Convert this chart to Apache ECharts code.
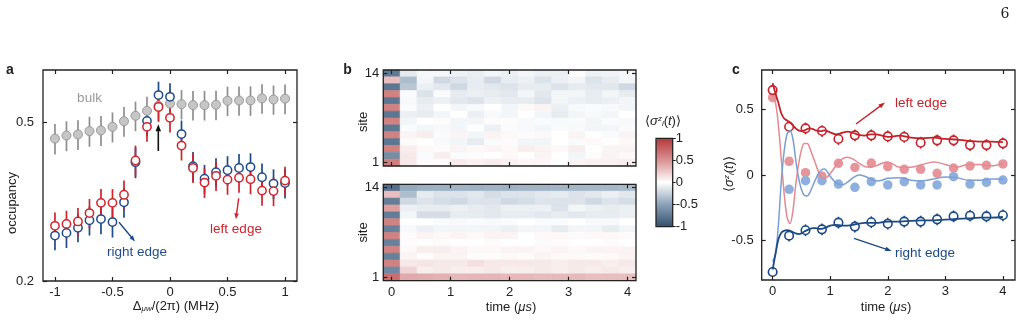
<!DOCTYPE html>
<html><head><meta charset="utf-8">
<script src="https://cdn.jsdelivr.net/npm/echarts@6/dist/echarts.min.js"></script>
<style>html,body{margin:0;padding:0;background:#fff}#c{width:1022px;height:325px}</style>
</head><body><div id="c"></div>
<script>
// ---------- Panel a ----------
const detuning = [-1,-0.9,-0.8,-0.7,-0.6,-0.5,-0.4,-0.3,-0.2,-0.1,0,0.1,0.2,0.3,0.4,0.5,0.6,0.7,0.8,0.9,1];
const bulkOcc  = [0.455,0.463,0.466,0.475,0.477,0.487,0.503,0.519,0.534,0.550,0.557,0.555,0.552,0.552,0.553,0.566,0.567,0.567,0.574,0.570,0.573];
const bulkErr  = [0.040,0.040,0.040,0.041,0.041,0.042,0.043,0.044,0.045,0.046,0.047,0.047,0.047,0.047,0.047,0.048,0.048,0.048,0.049,0.048,0.049];
const leftOcc  = [0.275,0.278,0.282,0.296,0.314,0.314,0.329,0.401,0.487,0.546,0.513,0.437,0.384,0.353,0.367,0.359,0.363,0.360,0.337,0.336,0.357];
const leftErr  = [0.022,0.022,0.023,0.025,0.026,0.026,0.028,0.036,0.040,0.045,0.042,0.036,0.032,0.030,0.031,0.030,0.030,0.030,0.028,0.028,0.030];
const rightOcc = [0.260,0.264,0.272,0.284,0.286,0.281,0.315,0.397,0.504,0.585,0.579,0.467,0.388,0.361,0.375,0.379,0.384,0.386,0.364,0.351,0.352];
const rightErr = [0.021,0.022,0.022,0.024,0.024,0.024,0.027,0.035,0.042,0.047,0.047,0.038,0.033,0.030,0.031,0.032,0.032,0.032,0.030,0.030,0.030];
const aXTicks = [-1,-0.5,0,0.5,1];
const aYTicks = [0.2,0.5];

// ---------- Panel b ----------
const times = [0,0.286,0.571,0.857,1.143,1.429,1.714,2.0,2.286,2.571,2.857,3.143,3.429,3.714,4.0];
const sites = [14,13,12,11,10,9,8,7,6,5,4,3,2,1];
const mapBulk = [
 [-0.74,-0.11,-0.04,-0.04,-0.07,-0.09,-0.05,-0.08,-0.05,-0.08,-0.08,-0.01,-0.07,-0.06,-0.04],
 [0.30,-0.35,-0.05,-0.20,-0.15,-0.10,-0.20,-0.10,-0.08,-0.15,-0.08,-0.05,-0.15,-0.10,-0.05],
 [-0.76,-0.30,-0.08,-0.12,-0.20,-0.10,-0.12,-0.15,-0.10,-0.10,-0.15,-0.10,-0.12,-0.12,-0.20],
 [0.60,-0.02,-0.15,-0.02,-0.10,-0.08,-0.10,-0.12,-0.05,-0.12,-0.05,-0.05,-0.10,-0.05,-0.10],
 [-0.76,-0.03,-0.10,-0.08,-0.12,-0.15,-0.08,-0.10,-0.10,-0.15,-0.05,-0.08,-0.10,-0.08,-0.05],
 [0.60,-0.02,-0.08,0.00,-0.05,-0.03,0.00,-0.05,0.03,0.05,-0.08,-0.03,-0.02,-0.03,-0.05],
 [-0.76,-0.08,-0.10,-0.05,0.00,-0.08,-0.03,-0.05,0.00,-0.05,-0.10,-0.05,-0.03,-0.05,0.00],
 [0.60,-0.05,0.00,0.02,-0.05,-0.05,0.02,0.02,-0.03,-0.02,-0.03,-0.02,-0.05,-0.02,-0.03],
 [-0.76,-0.02,-0.05,-0.03,-0.05,0.00,-0.08,-0.02,-0.03,-0.05,-0.02,-0.03,-0.05,-0.05,-0.02],
 [0.60,0.05,0.08,-0.02,0.05,-0.05,0.05,0.03,0.02,0.03,0.00,0.05,0.00,-0.02,0.05],
 [-0.76,0.02,0.00,-0.03,-0.05,-0.10,-0.02,0.02,-0.05,-0.05,0.00,-0.02,0.03,0.00,0.03],
 [0.60,0.08,0.03,0.02,0.05,0.03,0.05,0.03,0.08,0.05,0.03,0.08,0.00,0.05,0.05],
 [-0.62,0.10,-0.02,0.08,-0.02,0.02,0.00,0.03,0.00,0.05,0.00,-0.05,0.02,0.05,0.03],
 [0.62,0.10,0.02,0.02,0.09,0.06,0.09,0.06,0.04,0.04,0.01,0.05,0.07,0.07,0.08]
];
const mapEdge = [
 [-0.80,-0.46,-0.42,-0.41,-0.40,-0.41,-0.40,-0.41,-0.40,-0.40,-0.39,-0.38,-0.38,-0.38,-0.37],
 [0.30,-0.35,-0.10,-0.15,-0.15,-0.12,-0.18,-0.15,-0.15,-0.12,-0.10,-0.15,-0.12,-0.08,-0.12],
 [-0.72,-0.20,-0.15,-0.18,-0.20,-0.15,-0.15,-0.20,-0.18,-0.15,-0.15,-0.15,-0.20,-0.15,-0.18],
 [0.45,-0.08,-0.10,-0.10,-0.08,-0.10,-0.12,-0.08,-0.08,-0.08,-0.15,-0.05,-0.08,-0.10,-0.08],
 [-0.72,-0.05,-0.18,-0.18,-0.10,-0.10,-0.12,-0.10,-0.10,-0.12,-0.10,-0.12,-0.10,-0.10,-0.08],
 [0.60,0.00,0.00,-0.02,-0.03,-0.02,-0.03,-0.02,0.00,-0.02,-0.02,0.00,-0.03,-0.03,0.00],
 [-0.70,-0.03,-0.08,-0.05,-0.05,-0.05,-0.05,-0.08,-0.05,-0.05,-0.10,-0.05,-0.05,-0.10,-0.05],
 [0.60,0.02,0.05,0.03,0.05,0.03,0.05,0.05,0.00,0.03,0.03,0.02,0.03,0.03,0.02],
 [-0.70,0.02,0.00,0.02,0.00,0.00,0.02,0.00,0.00,-0.02,0.02,0.00,0.00,0.02,0.00],
 [0.60,0.03,0.08,0.08,0.05,0.03,0.03,0.05,0.05,0.03,0.05,0.03,0.05,0.05,0.05],
 [-0.70,0.05,0.02,0.05,0.05,0.02,0.02,0.03,0.02,0.05,0.03,0.03,0.02,0.03,0.05],
 [0.60,0.10,0.12,0.10,0.10,0.15,0.10,0.10,0.10,0.10,0.08,0.10,0.10,0.08,0.10],
 [-0.65,0.20,0.08,0.10,0.08,0.08,0.10,0.08,0.08,0.10,0.08,0.10,0.08,0.10,0.08],
 [0.70,0.40,0.38,0.36,0.33,0.34,0.34,0.33,0.33,0.31,0.32,0.32,0.30,0.30,0.30]
];
const bXTicks = [0,1,2,3,4];
const bYTicks = [1,14];
const cbarColors = ['#34506e','#89a1b8','#ffffff','#d99393','#b5373a'];

// ---------- Panel c ----------
const leftEdgeExp  = [0.647,0.368,0.355,0.335,0.274,0.302,0.302,0.294,0.290,0.246,0.264,0.264,0.228,0.228,0.241];
const rightEdgeExp = [-0.739,-0.462,-0.421,-0.414,-0.363,-0.393,-0.360,-0.371,-0.355,-0.355,-0.338,-0.315,-0.310,-0.315,-0.307];
const edgeErr      = [0.025,0.045,0.045,0.045,0.045,0.045,0.045,0.045,0.045,0.045,0.045,0.045,0.045,0.045,0.045];
const leftBulkExp  = [0.589,0.104,0.018,-0.008,0.089,0.058,0.091,0.063,0.043,0.043,0.013,0.053,0.069,0.074,0.084];
const rightBulkExp = [-0.74,-0.109,-0.043,-0.043,-0.069,-0.094,-0.051,-0.076,-0.051,-0.076,-0.076,-0.013,-0.069,-0.056,-0.038];
const curveT = [0,0.05,0.1,0.15,0.2,0.25,0.3,0.35,0.4,0.45,0.5,0.55,0.6,0.65,0.7,0.75,0.8,0.85,0.9,0.95,1.0,1.1,1.2,1.3,1.4,1.5,1.6,1.7,1.8,1.9,2.0,2.2,2.4,2.6,2.8,3.0,3.2,3.4,3.6,3.8,4.0];
const leftEdgeFit  = [0.70,0.62,0.55,0.47,0.43,0.415,0.40,0.38,0.355,0.34,0.335,0.34,0.35,0.355,0.35,0.34,0.335,0.335,0.34,0.335,0.325,0.31,0.32,0.33,0.32,0.305,0.30,0.31,0.31,0.30,0.29,0.30,0.285,0.28,0.285,0.275,0.27,0.26,0.255,0.255,0.25];
const leftBulkFit  = [0.60,0.55,0.38,0.12,-0.14,-0.32,-0.37,-0.28,-0.08,0.08,0.19,0.24,0.24,0.20,0.14,0.08,0.02,-0.015,-0.025,-0.015,0.01,0.07,0.12,0.135,0.12,0.09,0.065,0.06,0.07,0.09,0.10,0.06,0.06,0.08,0.10,0.08,0.06,0.08,0.08,0.07,0.09];
const rightBulkFit = [-0.66,-0.60,-0.38,-0.05,0.18,0.31,0.34,0.28,0.12,-0.02,-0.11,-0.155,-0.16,-0.13,-0.08,-0.03,0.015,0.04,0.045,0.025,-0.01,-0.06,-0.075,-0.055,-0.02,0.0,-0.01,-0.03,-0.045,-0.04,-0.025,-0.02,-0.04,-0.045,-0.03,-0.015,-0.02,-0.04,-0.04,-0.03,-0.03];
const rightEdgeFit = [-0.72,-0.60,-0.49,-0.44,-0.425,-0.42,-0.425,-0.435,-0.445,-0.45,-0.445,-0.43,-0.42,-0.41,-0.405,-0.405,-0.41,-0.41,-0.405,-0.395,-0.385,-0.38,-0.385,-0.385,-0.38,-0.37,-0.365,-0.365,-0.365,-0.36,-0.355,-0.355,-0.35,-0.345,-0.345,-0.34,-0.335,-0.33,-0.325,-0.325,-0.32];
const cXTicks = [0,1,2,3,4];
const cYTicks = [-0.5,0,0.5];

// ---------- build ----------
const FF = '"Liberation Sans", Arial, sans-serif';
const INK = '#222';
const RED = '#d0232b', BLUE = '#1f4b8a', GRAY_F = '#c6c6c6', GRAY_E = '#8e8e8e';
const DRED = '#c4222a', DBLUE = '#1b4a84', LRED = '#e6969b', LBLUE = '#8fb0de', LREDL = '#e48a90', LBLUEL = '#7a9fd6';

const half = (times[1]-times[0])/2;
const chart = echarts.init(document.getElementById('c'), null, {renderer:'canvas'});

function xAx(gi, min, max, ticks, pos, showLabel, showTick){
  return {type:'value', gridIndex:gi, min, max, position:pos, z:6,
    axisLine:{show:false, onZero:false}, splitLine:{show:false},
    axisTick:{show:showTick!==false, inside:true, length:4, lineStyle:{color:INK,width:1.2}, customValues:ticks},
    axisLabel:{show:showLabel, customValues:ticks, margin:5, fontSize:13, color:INK, fontFamily:FF}};
}
function yAx(gi, min, max, ticks, pos, showLabel, type, margin){
  const a = {type:type||'value', gridIndex:gi, min, max, position:pos, z:6,
    axisLine:{show:false, onZero:false}, splitLine:{show:false}, minorTick:{show:false},
    axisTick:{show:true, inside:true, length:4, lineStyle:{color:INK,width:1.2}, customValues:ticks},
    axisLabel:{show:showLabel, customValues:ticks, margin:margin||8, fontSize:13, color:INK, fontFamily:FF,
      formatter:(v)=>String(+(+v).toFixed(3))}};
  if (type==='log') a.logBase = 10;
  return a;
}

const gridStyle = {show:true, borderColor:INK, borderWidth:1.3, backgroundColor:'transparent', z:5};
const grids = [
  Object.assign({left:43, top:70, width:254, height:211}, gridStyle),
  Object.assign({left:383.3, top:70, width:252.7, height:96}, gridStyle),
  Object.assign({left:383.3, top:184.3, width:252.7, height:96.4}, gridStyle),
  Object.assign({left:761.7, top:70, width:253.3, height:210}, gridStyle),
  Object.assign({left:656, top:138.3, width:16.7, height:88.4}, gridStyle)
];
const bx0 = times[0]-half, bx1 = times[times.length-1]+half;
const xAxes = [
  xAx(0,-1.104,1.104,aXTicks,'bottom',true), xAx(0,-1.104,1.104,aXTicks,'top',false),
  xAx(1,bx0,bx1,bXTicks,'bottom',false), xAx(1,bx0,bx1,bXTicks,'top',false),
  xAx(2,bx0,bx1,bXTicks,'bottom',true), xAx(2,bx0,bx1,bXTicks,'top',false),
  xAx(3,-0.19,4.21,cXTicks,'bottom',true), xAx(3,-0.19,4.21,cXTicks,'top',false),
  {type:'value', gridIndex:4, show:false, min:0, max:1, axisLine:{onZero:false}}
];
const yAxes = [
  yAx(0,0.2,0.676,aYTicks,'left',true,'log',9), yAx(0,0.2,0.676,aYTicks,'right',false,'log'),
  yAx(1,0.5,14.5,bYTicks,'left',true,'value',4), yAx(1,0.5,14.5,bYTicks,'right',false),
  yAx(2,0.5,14.5,bYTicks,'left',true,'value',4), yAx(2,0.5,14.5,bYTicks,'right',false),
  yAx(3,-0.8,0.8,cYTicks,'left',true,'value',8), yAx(3,-0.8,0.8,cYTicks,'right',false),
  {type:'value', gridIndex:4, min:-1, max:1, interval:0.5, position:'right', z:6,
   axisLine:{show:false, onZero:false}, splitLine:{show:false},
   axisTick:{show:true, inside:false, length:3, lineStyle:{color:INK,width:1}},
   axisLabel:{margin:3, fontSize:13, color:INK, fontFamily:FF}}
];

function errSeries(xs, vals, errs, color, xi, yi, w){
  return {type:'custom', xAxisIndex:xi, yAxisIndex:yi, itemStyle:{color}, silent:true,
    encode:{x:0, y:[1,2]},
    data: xs.map((x,i)=>[x, vals[i]-errs[i], vals[i]+errs[i]]),
    renderItem:(p, api)=>{
      const a = api.coord([api.value(0), api.value(1)]);
      const b = api.coord([api.value(0), api.value(2)]);
      return {type:'line', shape:{x1:a[0],y1:a[1],x2:b[0],y2:b[1]}, style:{stroke:color, lineWidth:w}};
    }};
}
function scat(xs, vals, fill, stroke, bw, size, xi, yi){
  return {type:'scatter', xAxisIndex:xi, yAxisIndex:yi, symbol:'circle', symbolSize:size, silent:true,
    itemStyle:{color:fill, borderColor:stroke, borderWidth:bw, opacity:1},
    data: xs.map((x,i)=>[x, vals[i]])};
}
function heat(map, xi, yi){
  const data = [];
  map.forEach((row,r)=>row.forEach((v,c)=>data.push([times[c], sites[r], v])));
  return {type:'custom', xAxisIndex:xi, yAxisIndex:yi, silent:true, encode:{x:0,y:1}, data,
    renderItem:(p, api)=>{
      const t = api.value(0), s = api.value(1);
      const a = api.coord([t-half, s+0.5]), b = api.coord([t+half, s-0.5]);
      const col = api.visual('color');
      return {type:'rect', shape:{x:a[0], y:a[1], width:b[0]-a[0], height:b[1]-a[1]},
        style:{fill:col, stroke:col, lineWidth:0.6}};
    }};
}
function fitLine(vals, color, w){
  return {type:'line', xAxisIndex:6, yAxisIndex:6, smooth:0.35, symbol:'none', silent:true,
    lineStyle:{color, width:w}, data: curveT.map((t,i)=>[t, vals[i]])};
}

const series = [
  errSeries(detuning, bulkOcc, bulkErr, GRAY_E, 0, 0, 1.7),
  scat(detuning, bulkOcc, GRAY_F, '#9a9a9a', 1, 9, 0, 0),
  errSeries(detuning, rightOcc, rightErr, BLUE, 0, 0, 1.7),
  scat(detuning, rightOcc, '#fff', BLUE, 1.5, 8.3, 0, 0),
  errSeries(detuning, leftOcc, leftErr, RED, 0, 0, 1.7),
  scat(detuning, leftOcc, '#fff', RED, 1.5, 8.3, 0, 0),
  heat(mapBulk, 2, 2),
  heat(mapEdge, 4, 4),
  fitLine(leftBulkFit, LREDL, 1.5),
  fitLine(rightBulkFit, LBLUEL, 1.5),
  fitLine(leftEdgeFit, DRED, 1.8),
  fitLine(rightEdgeFit, DBLUE, 1.8),
  scat(times, leftBulkExp, LRED, LRED, 0, 9.5, 6, 6),
  scat(times, rightBulkExp, LBLUE, LBLUE, 0, 9.5, 6, 6),
  errSeries(times, leftEdgeExp, edgeErr, DRED, 6, 6, 1.5),
  scat(times, leftEdgeExp, '#fff', DRED, 1.6, 8.5, 6, 6),
  errSeries(times, rightEdgeExp, edgeErr, DBLUE, 6, 6, 1.5),
  scat(times, rightEdgeExp, '#fff', DBLUE, 1.6, 8.5, 6, 6)
];

// ---------- annotations ----------
function txt(x, y, text, style, rot){
  const el = {type:'text', x, y, z:20, silent:true,
    style:Object.assign({text, fontFamily:FF, fontSize:13, fill:INK, align:'center', verticalAlign:'middle'}, style||{})};
  if (rot) el.rotation = rot;
  return el;
}
function arrow(x1,y1,x2,y2,color,w,hl,hw){
  const ang = Math.atan2(y2-y1, x2-x1);
  const bx = x2-hl*Math.cos(ang), by = y2-hl*Math.sin(ang);
  const px = -Math.sin(ang)*hw/2, py = Math.cos(ang)*hw/2;
  return [{type:'line', z:20, silent:true, shape:{x1,y1,x2:bx+0.5*Math.cos(ang),y2:by+0.5*Math.sin(ang)}, style:{stroke:color, lineWidth:w}},
          {type:'polygon', z:20, silent:true, shape:{points:[[x2,y2],[bx+px,by+py],[bx-px,by-py]]}, style:{fill:color}}];
}
const sigmaRich = {
  n:{fontFamily:FF, fontSize:13, fill:INK},
  s:{fontFamily:FF, fontSize:13, fontStyle:'italic', fill:INK},
  sup:{fontFamily:FF, fontSize:8, fontStyle:'italic', fill:INK, verticalAlign:'top'},
  sub:{fontFamily:FF, fontSize:8, fontStyle:'italic', fill:INK, verticalAlign:'bottom'}
};
const sigmaText = '{n|⟨}{s|σ}{sup|z}{sub|i}{n|(}{s|t}{n|)⟩}';

const graphic = [
  txt(1005, 14, '6', {fontFamily:'"DejaVu Serif", serif', fontSize:14}),
  txt(10, 70, 'a', {fontWeight:'bold', fontSize:14}),
  txt(347.5, 70, 'b', {fontWeight:'bold', fontSize:14}),
  txt(736, 70, 'c', {fontWeight:'bold', fontSize:14}),
  txt(12, 203, 'occupancy', {}, Math.PI/2),
  txt(176, 306, '{n|Δ}{sub|μw}{n|/(2π) (MHz)}', {rich:sigmaRich}),
  txt(89.5, 98, 'bulk', {fill:'#9a9a9a', fontSize:13.5}),
  txt(137, 252.5, 'right edge', {fill:BLUE, fontSize:13.5}),
  txt(236, 229, 'left edge', {fill:RED, fontSize:13.5}),
  ...arrow(158.3, 151, 158.3, 124.3, '#111', 1.6, 7, 5.5),
  ...arrow(119, 222.3, 135, 241.5, BLUE, 1.4, 6, 4.5),
  ...arrow(238.7, 198.3, 235.8, 219.3, RED, 1.4, 6, 4.5),
  txt(363, 122, 'site', {}, Math.PI/2),
  txt(363, 232.5, 'site', {}, Math.PI/2),
  txt(511, 307, '{n|time (}{s|μs}{n|)}', {rich:sigmaRich}),
  txt(663, 121.5, sigmaText, {rich:sigmaRich}),
  txt(729, 174, sigmaText, {rich:sigmaRich}, Math.PI/2),
  txt(886, 307, '{n|time (}{s|μs}{n|)}', {rich:sigmaRich}),
  txt(921, 103, 'left edge', {fill:DRED, fontSize:13.5}),
  txt(925, 253, 'right edge', {fill:DBLUE, fontSize:13.5}),
  ...arrow(856, 124, 885, 102.5, DRED, 1.4, 6.5, 4.5),
  ...arrow(854, 238.3, 891.7, 251, DBLUE, 1.4, 6.5, 4.5)
];

chart.setOption({
  animation:false,
  backgroundColor:'#fff',
  grid: grids, xAxis: xAxes, yAxis: yAxes,
  visualMap: {type:'continuous', min:-1, max:1, seriesIndex:[6,7], dimension:2, calculable:false,
    orient:'vertical', left:656, top:138.3, itemWidth:16.7, itemHeight:88.4, padding:0, text:null,
    showLabel:false, inRange:{color:cbarColors}, z:1},
  series, graphic
});
</script></body></html>
